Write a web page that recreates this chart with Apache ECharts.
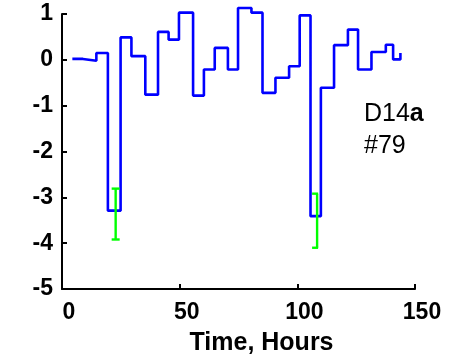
<!DOCTYPE html>
<html>
<head>
<meta charset="utf-8">
<script src="https://cdn.jsdelivr.net/npm/echarts@6/dist/echarts.min.js"></script>
<style>
  html, body { margin: 0; padding: 0; background: #fff; }
  #chart { width: 456px; height: 361px; }
</style>
</head>
<body>
<div id="chart"></div>
<script>
// Sampled state over time: each value holds from its time until the next one
var stepTimes = [4.4, 8.9, 14.6, 19.5, 24.9, 29.5, 35.4, 40.8, 45.3, 49.7, 55.7, 60.3, 64.9, 70.5,
  74.8, 80.5, 85.2, 90.7, 96.5, 101, 105.6, 110, 115.6, 121.5, 125.8, 131.5, 137.6, 140.7, 143.8];
var stepValues = [0.02, -0.02, 0.15, -3.29, 0.49, 0.08, -0.76, 0.61, 0.44, 1.03, -0.78, -0.21, 0.26, -0.21,
  1.13, 1.03, -0.72, -0.39, -0.14, 0.97, -3.41, -0.61, 0.32, 0.66, -0.21, 0.17, 0.33, 0.01, 0.15];

// Error ranges around the two deep dips
var errTimes = [22.8, 108.4];
var errHigh = [-2.81, -2.92];
var errLow = [-3.92, -4.10];

var xTicks = [0, 50, 100, 150];
var yTicks = [-5, -4, -3, -2, -1, 0, 1];

var labelFont = 'Liberation Sans, Arial, sans-serif';

var stepData = stepTimes.map(function (t, i) { return [t, stepValues[i]]; });
var errData = errTimes.map(function (t, i) { return [t, errLow[i], errHigh[i]]; });
// cap extents (px) to the left/right of each error bar
var capExtent = [[4, 4], [5, 1]];

var chart = echarts.init(document.getElementById('chart'), null, { renderer: 'canvas' });
chart.setOption({
  animation: false,
  backgroundColor: '#ffffff',
  grid: { left: 62, top: 14, width: 353, height: 276, containLabel: false },
  xAxis: {
    type: 'value',
    min: xTicks[0], max: xTicks[xTicks.length - 1], interval: 50,
    axisLine: { onZero: false, lineStyle: { color: '#000', width: 2 } },
    axisTick: { inside: true, length: 5, lineStyle: { color: '#000', width: 2 } },
    splitLine: { show: false },
    axisLabel: {
      color: '#000', fontFamily: labelFont, fontWeight: 'bold', fontSize: 23,
      margin: 12, padding: [0, 0, 0, 14]
    },
    name: 'Time, Hours',
    nameLocation: 'middle',
    nameGap: 42,
    nameTextStyle: {
      color: '#000', fontFamily: labelFont, fontWeight: 'bold', fontSize: 25,
      padding: [0, 0, 0, 46]
    }
  },
  yAxis: {
    type: 'value',
    min: yTicks[0], max: yTicks[yTicks.length - 1], interval: 1,
    axisLine: { onZero: false, lineStyle: { color: '#000', width: 2 } },
    axisTick: { inside: true, length: 5, lineStyle: { color: '#000', width: 2 } },
    splitLine: { show: false },
    axisLabel: {
      color: '#000', fontFamily: labelFont, fontWeight: 'bold', fontSize: 23,
      margin: 9
    }
  },
  series: [
    {
      type: 'line',
      data: stepData,
      step: 'end',
      clip: false,
      symbol: 'none',
      lineStyle: { color: '#0000ff', width: 2.6 },
      z: 2
    },
    {
      type: 'custom',
      data: errData,
      clip: false,
      z: 3,
      renderItem: function (params, api) {
        var x = api.value(0);
        var lo = api.coord([x, api.value(1)]);
        var hi = api.coord([x, api.value(2)]);
        var cap = capExtent[params.dataIndex];
        var style = { stroke: '#00ff00', lineWidth: 2.4 };
        return {
          type: 'group',
          children: [
            { type: 'line', shape: { x1: lo[0], y1: lo[1], x2: hi[0], y2: hi[1] }, style: style },
            { type: 'line', shape: { x1: hi[0] - cap[0], y1: hi[1], x2: hi[0] + cap[1], y2: hi[1] }, style: style },
            { type: 'line', shape: { x1: lo[0] - cap[0], y1: lo[1], x2: lo[0] + cap[1], y2: lo[1] }, style: style }
          ]
        };
      }
    }
  ],
  graphic: [
    {
      type: 'text', left: 364, top: 102,
      style: {
        text: '{r|D14}{b|a}',
        rich: {
          r: { fontFamily: labelFont, fontSize: 25, fill: '#000' },
          b: { fontFamily: labelFont, fontSize: 25, fontWeight: 'bold', fill: '#000' }
        }
      }
    },
    {
      type: 'text', left: 364, top: 134,
      style: { text: '#79', fontFamily: labelFont, fontSize: 25, fill: '#000' }
    }
  ]
});
</script>
</body>
</html>
